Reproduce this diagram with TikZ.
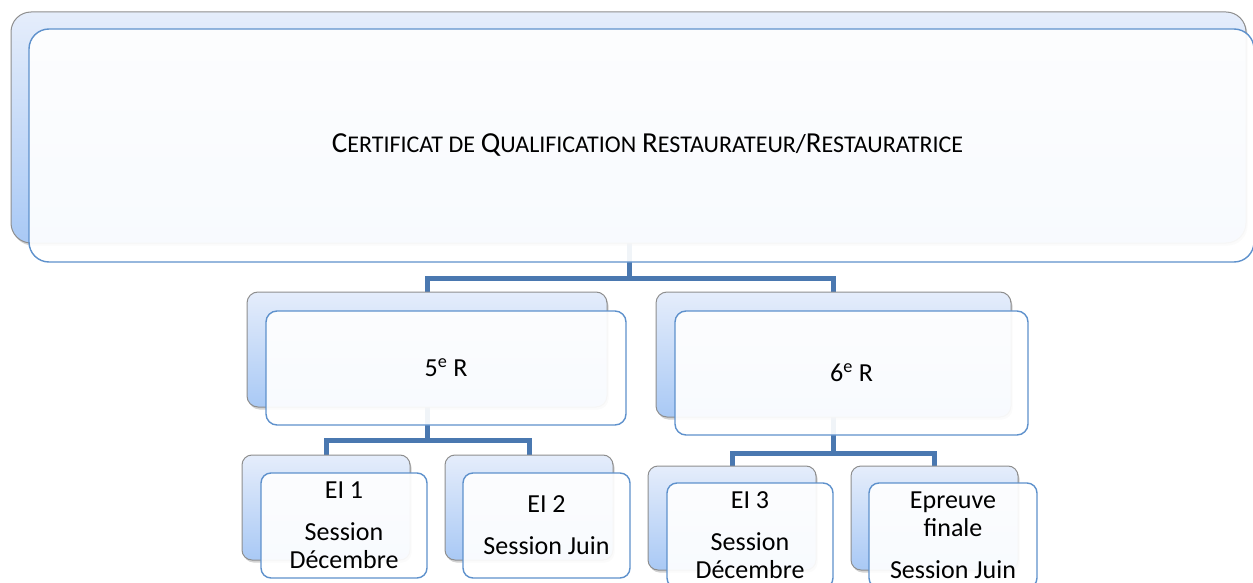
\documentclass[tikz,border=0pt]{standalone}
\usepackage{fontspec}
\setmainfont{Carlito}
\usetikzlibrary{shadows}
\definecolor{backtop}{HTML}{E5EDFB}
\definecolor{backbot}{HTML}{A9C9F5}
\definecolor{backline}{HTML}{8E8E8E}
\definecolor{frontline}{HTML}{5E91CC}
\definecolor{linkblue}{HTML}{4A78B0}
\newcommand{\fsc}[2]{{\fontsize{29}{32}\selectfont #1}{\fontsize{24}{28}\selectfont #2}}
\tikzset{
  backbox/.style={rectangle, rounded corners=#1, draw=backline, line width=1pt,
    top color=backtop, bottom color=backbot, inner sep=0pt, outer sep=0pt,
    drop shadow={opacity=0.35, shadow xshift=1.5pt, shadow yshift=-2.5pt}},
  frontbox/.style={rectangle, rounded corners=#1, draw=frontline, line width=1.4pt,
    fill=white, fill opacity=0.92, text opacity=1, inner sep=0pt, outer sep=0pt,
    align=center, font=\fontsize{26}{28}\selectfont},
  link/.style={draw=linkblue, line width=5pt}
}
\begin{document}
\begin{tikzpicture}[x=1pt,y=-1pt]
\useasboundingbox (0,0) rectangle (1253,583);
% junction points
\coordinate (j0) at (629,278);
\coordinate (j5) at (427,440);
\coordinate (j6) at (833.5,453);
% connectors
\draw[link] (629,243) -- (j0);
\draw[link] (427,292) |- (j0);
\draw[link] (833.5,292) |- (j0);
\draw[link] (427,407) -- (j5);
\draw[link] (326,455) |- (j5);
\draw[link] (529,455) |- (j5);
\draw[link] (833.5,417) -- (j6);
\draw[link] (732,466) |- (j6);
\draw[link] (934.5,466) |- (j6);
% back boxes
\node[backbox=20pt, minimum width=1235pt, minimum height=231pt, anchor=north west] (b0) at (11,12) {};
\node[backbox=11pt, minimum width=360pt, minimum height=115pt, anchor=north west] (b5) at (247,292) {};
\node[backbox=11pt, minimum width=355pt, minimum height=125pt, anchor=north west] (b6) at (656,292) {};
\node[backbox=10pt, minimum width=168pt, minimum height=105pt, anchor=north west] (b1) at (242,455) {};
\node[backbox=10pt, minimum width=168pt, minimum height=105pt, anchor=north west] (b2) at (445,455) {};
\node[backbox=10pt, minimum width=168pt, minimum height=104pt, anchor=north west] (b3) at (648,466) {};
\node[backbox=10pt, minimum width=167pt, minimum height=104pt, anchor=north west] (b4) at (851,466) {};
% front boxes
\node[frontbox=20pt, minimum width=1225pt, minimum height=233pt, anchor=north west] (f0) at (29,29)
  {\hspace*{12pt}\fsc{C}{ERTIFICAT DE} \fsc{Q}{UALIFICATION} \fsc{R}{ESTAURATEUR}/\fsc{R}{ESTAURATRICE}};
\node[frontbox=11pt, minimum width=360pt, minimum height=114pt, anchor=north west] (f5) at (266,311)
  {5\textsuperscript{e} R};
\node[frontbox=11pt, minimum width=353pt, minimum height=124pt, anchor=north west] (f6) at (675,311)
  {6\textsuperscript{e} R};
\node[frontbox=10pt, minimum width=166pt, minimum height=105pt, anchor=north west] (f1) at (261,473)
  {EI 1\\[14pt]Session\\Décembre};
\node[frontbox=10pt, minimum width=167pt, minimum height=105pt, anchor=north west] (f2) at (463,473)
  {EI 2\\[14pt]Session Juin};
\node[frontbox=10pt, minimum width=166pt, minimum height=105pt, anchor=north west] (f3) at (667,483)
  {EI 3\\[14pt]Session\\Décembre};
\node[frontbox=10pt, minimum width=168pt, minimum height=105pt, anchor=north west] (f4) at (869,483)
  {Epreuve\\finale\\[14pt]Session Juin};
\end{tikzpicture}
\end{document}
